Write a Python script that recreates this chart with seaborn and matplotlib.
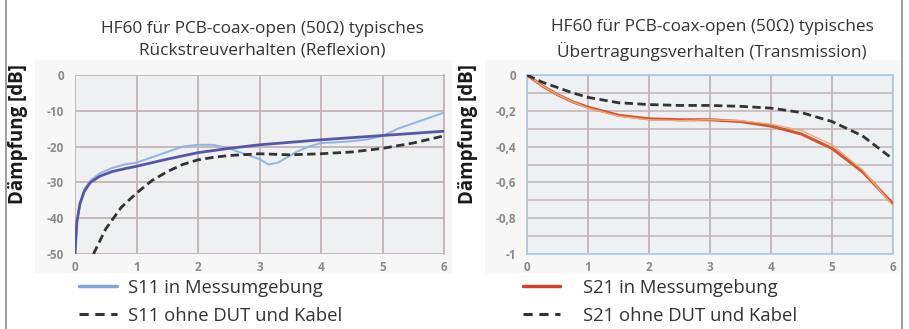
import matplotlib
matplotlib.use("Agg")
import matplotlib.pyplot as plt
from matplotlib.lines import Line2D
from matplotlib.patches import Rectangle
import numpy as np
import seaborn as sns

# --- S11 (reflection) ---
s11_freq = [0, 0.03, 0.08, 0.15, 0.25, 0.4, 0.6, 0.8, 1.0, 1.25, 1.5, 1.75, 2.0,
            2.25, 2.5, 2.75, 3.0, 3.15, 3.3, 3.45, 3.6, 3.8, 4.0, 4.25, 4.5, 4.75,
            5.0, 5.25, 5.5, 5.75, 6.0]
s11_meas = [-50, -42, -36, -32, -29.5, -27.5, -26, -25, -24.5, -23, -21.5, -20,
            -19.5, -19.5, -20.5, -22, -23.5, -25, -24.5, -23, -21.5, -20, -19,
            -18.8, -18.5, -18, -17, -15, -13.5, -12, -10.5]
s11_fit_freq = [0, 0.03, 0.08, 0.15, 0.25, 0.4, 0.6, 0.8, 1.0, 1.5, 2.0, 2.5,
                3.0, 3.5, 4.0, 4.5, 5.0, 5.5, 6.0]
s11_fit = [-50, -41, -36, -32.5, -30, -28.3, -27, -26.2, -25.5, -23.5, -21.7,
           -20.5, -19.5, -18.8, -18.1, -17.5, -16.9, -16.3, -15.7]
s11_ref_freq = [0.3, 0.5, 0.75, 1.0, 1.25, 1.5, 1.75, 2.0, 2.25, 2.5, 3.0, 3.5,
                4.0, 4.5, 5.0, 5.5, 6.0]
s11_ref = [-50, -43, -37, -33, -29.5, -27, -25, -23.7, -23, -22.5, -22, -22.3,
           -22, -21.5, -20.5, -19, -17]

# --- S21 (transmission) ---
s21_freq = [0, 0.25, 0.5, 0.75, 1.0, 1.5, 2.0, 2.5, 3.0, 3.5, 4.0, 4.5, 5.0, 5.5, 6.0]
s21_meas = [0, -0.06, -0.11, -0.15, -0.18, -0.225, -0.245, -0.25, -0.25, -0.26,
            -0.285, -0.33, -0.41, -0.54, -0.72]
s21_meas_b = [0, -0.06, -0.11, -0.15, -0.185, -0.23, -0.25, -0.255, -0.25,
              -0.255, -0.275, -0.31, -0.39, -0.53, -0.73]
s21_ref = [0, -0.04, -0.07, -0.1, -0.125, -0.155, -0.165, -0.17, -0.17, -0.175,
           -0.185, -0.21, -0.26, -0.34, -0.47]

s11_xticks = [0, 1, 2, 3, 4, 5, 6]
s11_yticks = [0, -10, -20, -30, -40, -50]
s21_yticks = [0, -0.2, -0.4, -0.6, -0.8, -1]
s21_ylabels = ["0", "-0,2", "-0,4", "-0,6", "-0,8", "-1"]

titles = ["HF60 für PCB-coax-open (50Ω) typisches\nRückstreuverhalten (Reflexion)",
          "HF60 für PCB-coax-open (50Ω) typisches\nÜbertragungsverhalten (Transmission)"]
ylabel = "Dämpfung [dB]"
legend_left = ["S11 in Messumgebung", "S11 ohne DUT und Kabel"]
legend_right = ["S21 in Messumgebung", "S21 ohne DUT und Kabel"]

sns.set_theme(style="white")
plt.rcParams["font.family"] = ["Open Sans", "DejaVu Sans"]

W, H = 909, 329
fig = plt.figure(figsize=(W / 100, H / 100), dpi=100)
fig.patch.set_facecolor("white")

def fx(px):
    return px / W

def fy(py):
    return 1 - py / H

# faint backdrop behind each chart
for x0, x1 in [(35, 452), (485, 900)]:
    fig.add_artist(Rectangle((fx(x0), fy(273)), fx(x1) - fx(x0), fy(60) - fy(273),
                             transform=fig.transFigure, facecolor="#f7f7f7",
                             edgecolor="none", zorder=0))

ax1 = fig.add_axes([fx(75), fy(254), fx(444) - fx(75), fy(75) - fy(254)])
ax2 = fig.add_axes([fx(527), fy(254), fx(893) - fx(527), fy(75) - fy(254)])

grid_col = "#c4b8b8"
tick_col = "#8a8a8a"

# Left: reflection
ax1.set_facecolor("#eef0f2")
sns.lineplot(x=s11_freq, y=s11_meas, ax=ax1, color="#8fb4e3", lw=1.4, zorder=3)
sns.lineplot(x=s11_fit_freq, y=s11_fit, ax=ax1, color="#5656a8", lw=2.0, zorder=4)
sns.lineplot(x=s11_ref_freq, y=s11_ref, ax=ax1, color="#333333", lw=2.0,
             linestyle=(0, (3, 1.6)), zorder=5)
ax1.set_xlim(0, 6)
ax1.set_ylim(-50, 0)
ax1.set_xticks(s11_xticks)
ax1.set_yticks(s11_yticks)
ax1.set_yticklabels([str(v) for v in s11_yticks])
ax1.grid(True, color=grid_col, lw=1.4)
for s in ax1.spines.values():
    s.set_visible(False)
ax1.spines["right"].set_visible(True)
ax1.spines["right"].set_color(grid_col)
ax1.spines["right"].set_linewidth(1.4)

# Right: transmission
ax2.set_facecolor("#eef1f4")
sns.lineplot(x=s21_freq, y=s21_meas_b, ax=ax2, color="#f2a878", lw=1.0, zorder=4)
sns.lineplot(x=s21_freq, y=s21_meas, ax=ax2, color="#d4572c", lw=2.2, zorder=3)
sns.lineplot(x=s21_freq, y=s21_ref, ax=ax2, color="#333333", lw=2.0,
             linestyle=(0, (3, 1.6)), zorder=5)
ax2.set_xlim(0, 6)
ax2.set_ylim(-1, 0)
ax2.set_xticks(s11_xticks)
ax2.set_yticks(s21_yticks)
ax2.set_yticklabels(s21_ylabels)
ax2.set_yticks(np.round(np.arange(-0.9, 0, 0.2), 1), minor=True)
ax2.grid(True, which="both", axis="y", color=grid_col, lw=1.2)
ax2.grid(True, which="major", axis="x", color=grid_col, lw=1.4)
for s in ax2.spines.values():
    s.set_color("#a9c9ea")
    s.set_linewidth(1.2)

for ax in (ax1, ax2):
    ax.set_xlabel("")
    ax.set_ylabel("")
    ax.tick_params(axis="both", which="both", length=0, labelsize=8.5,
                   labelcolor=tick_col)
    ax.tick_params(axis="y", pad=8)
    ax.tick_params(axis="x", pad=5)
    for lbl in ax.get_xticklabels() + ax.get_yticklabels():
        lbl.set_fontweight("bold")
    ax.set_axisbelow(True)

fig.text(fx(262), fy(40), titles[0], ha="center", va="center", fontsize=12.4,
         color="#333333", linespacing=1.45)
fig.text(fx(712), fy(40), titles[1], ha="center", va="center", fontsize=12.4,
         color="#333333", linespacing=1.45)

fig.text(fx(18), fy(134), ylabel, rotation=90, ha="center", va="center",
         fontsize=13.5, fontweight="bold", color="#1a1a1a")
fig.text(fx(468), fy(134), ylabel, rotation=90, ha="center", va="center",
         fontsize=13.5, fontweight="bold", color="#1a1a1a")

# Legends below each chart
def legend(x_line, x_text, labels, color):
    rows = [286, 314]
    styles = [dict(color=color, lw=2.5, ls="-"),
              dict(color="#333333", lw=2.2, ls=(0, (3, 2.2)))]
    for py, lab, st in zip(rows, labels, styles):
        fig.add_artist(Line2D([fx(x_line[0]), fx(x_line[1])], [fy(py), fy(py)],
                              transform=fig.transFigure, **st))
        fig.text(fx(x_text), fy(py + 7), lab, ha="left", va="baseline",
                 fontsize=13.3, color="#333333")

legend((79, 117), 128, legend_left, "#7ba7dc")
legend((523, 560), 583, legend_right, "#d93a2b")

# outer frame lines
for px in (5.5, 901.5):
    fig.add_artist(Line2D([fx(px), fx(px)], [0, 1], transform=fig.transFigure,
                          color="#8c8c8c", lw=1.2))

fig.savefig("out.png", dpi=100, facecolor="white")
